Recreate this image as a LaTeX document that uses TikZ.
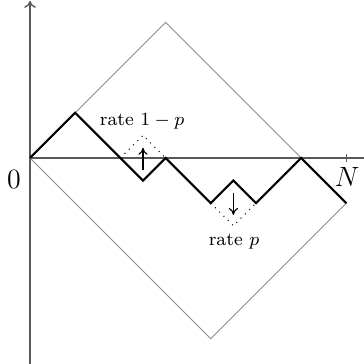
\documentclass[tikz,border=0pt]{standalone}
\usetikzlibrary{arrows.meta}
\begin{document}
\begin{tikzpicture}[x=0.342cm,y=0.342cm,
  axis/.style={draw=black!65,line width=0.6pt},
  box/.style={draw=black!45,line width=0.4pt},
  walk/.style={draw=black,line width=0.9pt,line join=miter},
  flip/.style={draw=black,dash pattern=on 0.4pt off 2.2pt,line width=0.5pt},
  move/.style={draw=black,line width=0.5pt,-{To[length=3pt,width=4pt]}},
  lab/.style={font=\footnotesize,inner sep=1pt},
  axlab/.style={font=\large,inner sep=0pt}]
\useasboundingbox (-1.327,-9.115) rectangle (14.78,6.99);
% axes
\coordinate (O) at (0,0);
\coordinate (ybot) at (0,-9.2);
\coordinate (ytop) at (0,6.95);
\coordinate (xend) at (14.9,0);
\draw[axis] (ybot) -- (O);
\draw[axis,-{To[length=3pt,width=5pt]}] (O) -- (ytop);
\draw[axis] (O) -- (xend);
\coordinate (Nt) at (14,0.17);
\coordinate (Nb) at (14,-0.17);
\draw[axis] (Nt) -- (Nb);
\node[axlab] (zero) at (-0.71,-0.95) {$0$};
\node[axlab] (N) at (14.03,-0.85) {$N$};
% rectangle
\coordinate (r1) at (6,6);
\coordinate (r2) at (14,-2);
\coordinate (r3) at (8,-8);
\draw[box] (O) -- (r1) -- (r2) -- (r3) -- cycle;
% walk
\draw[walk] (O) -- (2,2) -- (5,-1) -- (6,0) -- (8,-2) -- (9,-1) -- (10,-2) -- (12,0) -- (r2);
% flips
\draw[flip] (4,0) -- (5,1) -- (6,0);
\draw[flip] (8,-2) -- (9,-3) -- (10,-2);
\coordinate (ua) at (5,-0.55);
\coordinate (ub) at (5,0.45);
\draw[move] (ua) -- (ub);
\coordinate (da) at (9,-1.55);
\coordinate (db) at (9,-2.52);
\draw[move] (da) -- (db);
\node[lab] (rup) at (4.96,1.6) {rate $1-p$};
\node[lab] (rdown) at (9.03,-3.72) {rate $p$};
\end{tikzpicture}
\end{document}
